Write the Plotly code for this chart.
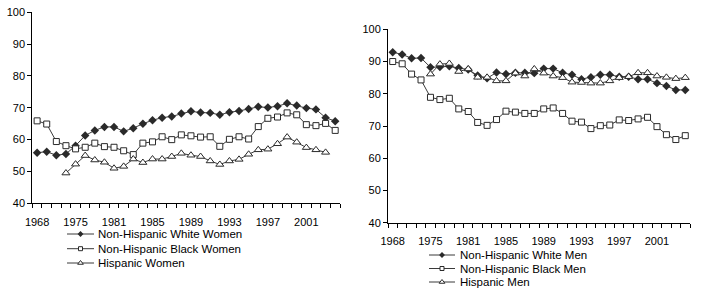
import plotly.graph_objects as go

years = ["1968", "1970", "1972", "1974", "1975", "1977", "1979", "1980"] + [str(y) for y in range(1981, 2005)]
tick_labels = ["1968", "1975", "1981", "1985", "1989", "1993", "1997", "2001"]

white_women = [55.9, 56.2, 55.1, 55.5, 58.1, 61.3, 62.9, 64.0, 64.0, 62.6, 63.6, 65.0, 66.1, 66.9, 67.3, 68.2,
               68.9, 68.5, 68.4, 67.8, 68.6, 69.0, 69.6, 70.3, 70.1, 70.5, 71.4, 70.7, 69.9, 69.5, 66.9, 65.8]
black_women = [65.9, 64.9, 59.4, 58.1, 57.1, 57.6, 58.9, 57.8, 57.6, 56.5, 55.3, 58.9, 59.3, 60.9, 60.0, 61.5,
               61.2, 60.8, 60.9, 57.9, 60.1, 60.9, 60.2, 64.1, 66.7, 67.1, 68.4, 67.8, 64.7, 64.4, 65.1, 62.9]
hisp_women_years = years[3:31]
hisp_women = [49.5, 52.3, 55.0, 53.6, 52.9, 51.0, 51.6, 53.9, 52.8, 53.9, 53.9, 54.7, 55.7, 55.1, 54.7, 53.3,
              52.2, 53.3, 53.8, 55.4, 56.8, 57.0, 58.7, 60.8, 59.2, 57.5, 56.8, 56.0]

white_men = [92.9, 92.2, 91.0, 91.1, 88.2, 88.3, 88.5, 88.0, 87.5, 85.7, 84.8, 86.6, 86.1, 86.5, 86.5, 86.4,
             87.8, 87.8, 86.5, 85.9, 84.5, 85.1, 85.9, 85.9, 85.3, 85.3, 84.5, 84.5, 83.3, 82.4, 81.2, 81.2]
black_men = [90.0, 89.3, 86.1, 84.3, 78.9, 78.2, 78.6, 75.3, 74.5, 71.1, 70.2, 72.0, 74.6, 74.3, 73.9, 73.9,
             75.3, 75.6, 73.9, 71.5, 71.2, 69.2, 70.1, 70.3, 71.9, 71.7, 72.2, 72.7, 69.8, 67.3, 65.8, 67.0]
hisp_men_years = years[4:32]
hisp_men = [86.1, 89.2, 89.4, 86.9, 87.7, 85.1, 85.1, 84.0, 84.0, 86.4, 85.5, 87.7, 86.4, 85.5, 85.0, 83.6,
            83.5, 83.3, 83.3, 84.0, 85.0, 85.3, 86.5, 86.5, 85.5, 85.1, 84.7, 85.0]

legend_women = ["Non-Hispanic White Women", "Non-Hispanic Black Women", "Hispanic Women"]
legend_men = ["Non-Hispanic White Men", "Non-Hispanic Black Men", "Hispanic Men"]

FONT = "Liberation Sans, Arial, sans-serif"
LINE = "#3a3a3a"
styles = [
    dict(symbol="diamond", size=6.5, color="#2a2a2a", line=dict(color="#2a2a2a", width=0)),
    dict(symbol="square", size=6, color="white", line=dict(color="#2a2a2a", width=1)),
    dict(symbol="triangle-up", size=7, color="white", line=dict(color="#2a2a2a", width=1)),
]

fig = go.Figure()

def add(x, y, xa, ya, st):
    fig.add_trace(go.Scatter(x=x, y=y, mode="lines+markers", xaxis=xa, yaxis=ya,
                             line=dict(color=LINE, width=1), marker=st, showlegend=False,
                             cliponaxis=False))

add(years, white_women, "x", "y", styles[0])
add(years, black_women, "x", "y", styles[1])
add(hisp_women_years, hisp_women, "x", "y", styles[2])
add(years, white_men, "x2", "y2", styles[0])
add(years, black_men, "x2", "y2", styles[1])
add(hisp_men_years, hisp_men, "x2", "y2", styles[2])

# invisible anchors so the tick-mark overlay axes get drawn
for xa, ya in (("x3", "y"), ("x4", "y2")):
    fig.add_trace(go.Scatter(x=[0], y=[50], xaxis=xa, yaxis=ya, mode="markers",
                             marker=dict(opacity=0), showlegend=False, hoverinfo="skip"))

# manual legends on a pixel overlay axis
leg_left = dict(x0=67, x1=94, tx=96, rows=[234, 248.7, 263])
leg_right = dict(x0=429, x1=455, tx=458, rows=[255, 268.5, 282])
annotations = []
for leg, names in ((leg_left, legend_women), (leg_right, legend_men)):
    for i, name in enumerate(names):
        yy = leg["rows"][i]
        fig.add_trace(go.Scatter(x=[leg["x0"], leg["x1"]], y=[yy, yy], mode="lines", xaxis="x5", yaxis="y5",
                                 line=dict(color=LINE, width=1), showlegend=False, hoverinfo="skip"))
        st = dict(styles[i])
        st["size"] = st["size"] - 2
        fig.add_trace(go.Scatter(x=[(leg["x0"] + leg["x1"]) / 2], y=[yy], mode="markers", xaxis="x5", yaxis="y5",
                                 marker=st, showlegend=False, hoverinfo="skip"))
        annotations.append(dict(x=leg["tx"], y=yy, xref="x5", yref="y5", text=name, showarrow=False,
                                xanchor="left", yanchor="middle", font=dict(size=11.5, color="black", family=FONT)))

# end value labels
for xa, ya, xv, yv, dx, dy in [
    ("x", "y", years[-1], white_women[-1], -2, 13),
    ("x", "y", years[-1], black_women[-1], -4, -7),
    ("x", "y", hisp_women_years[-1], hisp_women[-1], 12, 0),
    ("x2", "y2", hisp_men_years[-1], hisp_men[-1], 4, 13),
    ("x2", "y2", years[-1], white_men[-1], 3, -14),
    ("x2", "y2", years[-1], black_men[-1], 7, 0),
]:
    annotations.append(dict(x=xv, y=yv, xref=xa, yref=ya, text=str(round(yv)), showarrow=False,
                            xshift=dx, yshift=dy, font=dict(size=11, color="black", family=FONT)))

tickfont = dict(size=11, color="black", family=FONT)
xd1 = [32.3 / 715, 340 / 715]
xd2 = [388 / 715, 690 / 715]
yd1 = [1 - 203.3 / 294, 1 - 12.3 / 294]
yd2 = [1 - 222.7 / 294, 1 - 29.3 / 294]

def cat_axis(domain, anchor):
    return dict(domain=domain, anchor=anchor, type="category", categoryorder="array", categoryarray=years,
                range=[-0.5, len(years) - 0.5], tickmode="array", tickvals=tick_labels, ticktext=tick_labels,
                ticks="", showline=True, linecolor="black", linewidth=1, showgrid=False, zeroline=False,
                tickfont=tickfont, ticklabelstandoff=8, fixedrange=True)

def tick_axis(domain, anchor, over):
    return dict(domain=domain, anchor=anchor, overlaying=over, type="linear", range=[-0.5, len(years) - 0.5],
                tickmode="linear", tick0=-0.5, dtick=1, ticks="outside", ticklen=4, tickcolor="black",
                tickwidth=1, showticklabels=False, showline=False, showgrid=False, zeroline=False,
                fixedrange=True)

def y_axis(domain, anchor):
    return dict(domain=domain, anchor=anchor, range=[40, 100], dtick=10, ticks="outside", ticklen=4,
                tickcolor="black", showline=True, linecolor="black", linewidth=1, showgrid=False,
                zeroline=False, tickfont=tickfont, fixedrange=True)

fig.update_layout(
    width=715, height=294, margin=dict(l=0, r=0, t=0, b=0, autoexpand=False),
    paper_bgcolor="white", plot_bgcolor="rgba(0,0,0,0)", showlegend=False,
    font=dict(family=FONT, color="black"),
    xaxis=cat_axis(xd1, "y"), yaxis=y_axis(yd1, "x"),
    xaxis2=cat_axis(xd2, "y2"), yaxis2=y_axis(yd2, "x2"),
    xaxis3=tick_axis(xd1, "y", "x"), xaxis4=tick_axis(xd2, "y2", "x2"),
    xaxis5=dict(domain=[0, 1], anchor="y5", range=[0, 715], visible=False, fixedrange=True),
    yaxis5=dict(domain=[0, 1], anchor="x5", range=[294, 0], visible=False, fixedrange=True),
    annotations=annotations,
)

fig.write_html("out.html", config={"displayModeBar": False},
               post_script="document.body.style.margin='0';document.body.style.overflow='hidden';")
